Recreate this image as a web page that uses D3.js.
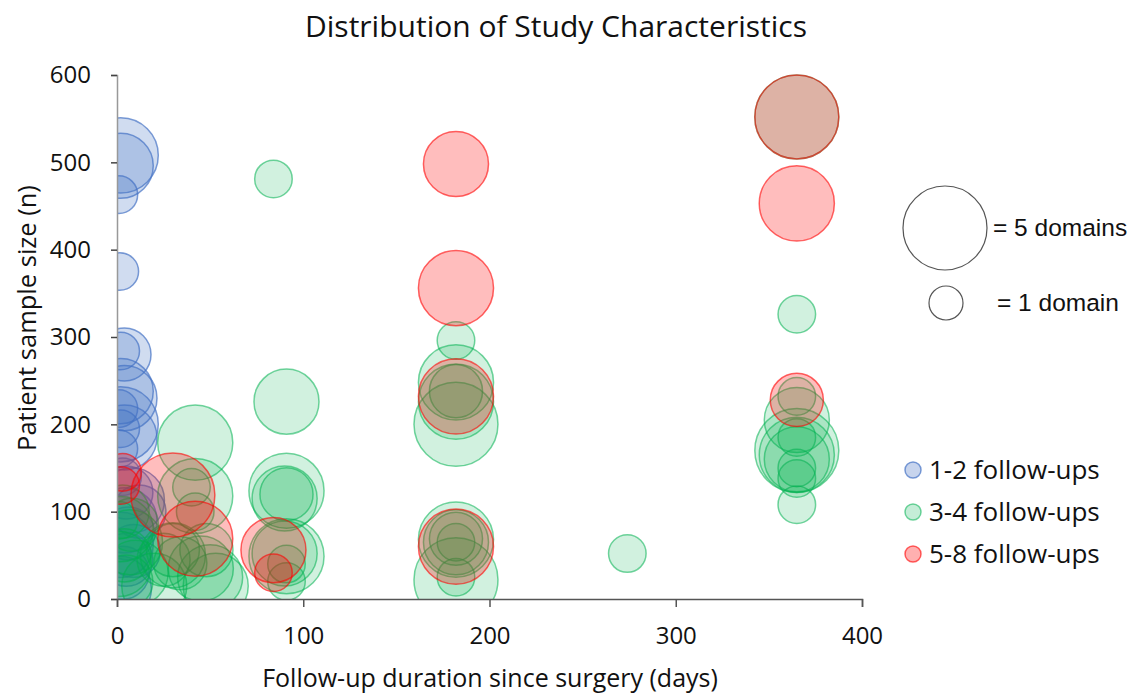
<!DOCTYPE html>
<html>
<head>
<meta charset="utf-8">
<script src="https://cdn.jsdelivr.net/npm/d3@7"></script>
<style>
  html, body { margin: 0; padding: 0; background: #fff; }
  svg { display: block; }
  text { font-family: "Open Sans", "Noto Sans", sans-serif; fill: #111; }
</style>
</head>
<body>
<svg id="chart" width="1135" height="696"></svg>
<script>
// ---- data: [follow-up days, patient sample size, number of domains] ----
const series12 = [
  [2,508,4],[2,496,3],[1,463,1],[1.5,375,1],
  [4,280,2],[2,284,1],
  [2,238,3],[4,230,3],
  [2,200,4],[4,185,3],[1,218,1],[2,195,1],[1,172,1],
  [5,122,2],[8,113,3],[12,100,2],[4,90,3],[6,75,2],[2,62,3],[5,45,2],[3,30,2],[1,12,3],[9,55,2],[3,140,1]
];
const series34 = [
  [3,100,2],[2,80,3],[7,65,3],[4,50,2],[1,40,3],[10,30,3],[5,20,2],[20,15,3],[1,90,1],[8,85,2],
  [42,179,4],[42,118,4],[40,128,1],[42,100,1],[30,56,2],[34,41,2],[48,56,2],[30,50,3],[50,25,3],[53,15,3],[45,35,3],[25,45,2],
  [84,481,1],[91,226,3],[91,124,4],[91,120,2],[90,115,3],[91,49,4],[90,52,3],[91,40,1],[91,20,1],
  [182,296,1],[182,248,4],[182,226,4],[182,238,2],[182,200,5],[182,68,4],[182,65,3],[182,69,2],[182,65,1],[182,25,1],[182,22,5],
  [274,52,1],
  [365,552,5],[365,326,1],[365,232,1],[365,205,3],[365,170,5],[365,165,4],[365,160,3],[365,185,1],[365,150,1],[365,138,1],[365,108,1]
];
const series58 = [
  [3,145,1],[2,130,1],[30,119,5],[42,69,4],[84,56,3],[84,30,1],
  [182,498,3],[182,356,4],[182,232,4],[182,60,4],
  [365,552,5],[365,453,4],[365,228,2]
];
const seriesNames = ["1-2 follow-ups", "3-4 follow-ups", "5-8 follow-ups"];
const xTicks = [0, 100, 200, 300, 400];
const yTicks = [0, 100, 200, 300, 400, 500, 600];
const sizeLegend = [5, 1];

const seriesColors = ["68,114,196", "0,176,80", "255,0,0"];
const fillAlpha = [0.25, 0.18, 0.26];
const strokeAlpha = [0.7, 0.55, 0.6];

const svg = d3.select("#chart");
const pLeft = 117, pRight = 862, pTop = 75, pBottom = 599;

const x = d3.scaleLinear().domain([0, 400]).range([pLeft, pRight]);
const y = d3.scaleLinear().domain([0, 600]).range([pBottom, pTop]);
const r = d3.scaleSqrt().domain([0, 5]).range([0, 42]);

// Title
svg.append("text")
  .attr("x", 556).attr("y", 37)
  .attr("text-anchor", "middle")
  .style("font-size", "30px")
  .text("Distribution of Study Characteristics");

// clip
svg.append("defs").append("clipPath").attr("id", "plotClip")
  .append("rect").attr("x", pLeft).attr("y", pTop - 3)
  .attr("width", pRight - pLeft).attr("height", pBottom - pTop + 3);

const plot = svg.append("g").attr("clip-path", "url(#plotClip)");
[series12, series34, series58].forEach((data, i) => {
  plot.append("g").selectAll("circle").data(data).join("circle")
    .attr("cx", d => x(d[0]))
    .attr("cy", d => y(d[1]))
    .attr("r", d => r(d[2]))
    .attr("fill", `rgba(${seriesColors[i]},${fillAlpha[i]})`)
    .attr("stroke", `rgba(${seriesColors[i]},${strokeAlpha[i]})`)
    .attr("stroke-width", 1.5);
});

// Axes
const yAxis = svg.append("g").attr("transform", `translate(${pLeft},0)`)
  .call(d3.axisLeft(y).tickValues(yTicks).tickSize(6).tickPadding(20).tickFormat(d3.format("d")));
yAxis.select(".domain").attr("stroke", "#999").attr("stroke-width", 1.5);
yAxis.selectAll(".tick line").attr("stroke", "#444").attr("stroke-width", 1.5);
yAxis.selectAll(".tick text").style("font-size", "24px").style("font-family", '"Open Sans", sans-serif').attr("fill", "#111");

const xAxis = svg.append("g").attr("transform", `translate(0,${pBottom})`)
  .call(d3.axisBottom(x).tickValues(xTicks).tickSize(8).tickPadding(20).tickFormat(d3.format("d")));
xAxis.select(".domain").attr("stroke", "#555").attr("stroke-width", 1.5);
xAxis.selectAll(".tick line").attr("stroke", "#555").attr("stroke-width", 1.5);
xAxis.selectAll(".tick text").style("font-size", "24px").style("font-family", '"Open Sans", sans-serif').attr("fill", "#111");

// Axis titles
svg.append("text")
  .attr("x", 490).attr("y", 687)
  .attr("text-anchor", "middle")
  .style("font-size", "25px")
  .text("Follow-up duration since surgery (days)");
svg.append("text")
  .attr("transform", "translate(36,318) rotate(-90)")
  .attr("text-anchor", "middle")
  .style("font-size", "25.5px")
  .text("Patient sample size (n)");

// Size legend
const sizeLeg = svg.append("g");
const sizeY = [228, 303];
const sizeCx = [945, 946];
const sizeLabels = ["= 5 domains", "= 1 domain"];
const sizeTx = [993, 997];
sizeLegend.forEach((d, i) => {
  sizeLeg.append("circle").attr("cx", sizeCx[i]).attr("cy", sizeY[i]).attr("r", d === 5 ? 42 : 17)
    .attr("fill", "none").attr("stroke", "#555").attr("stroke-width", 1.2);
  sizeLeg.append("text").attr("x", sizeTx[i]).attr("y", sizeY[i] + 8)
    .style("font-family", '"Liberation Sans", Arial, sans-serif').style("font-size", "24.5px")
    .text(sizeLabels[i]);
});

// Series legend
const leg = svg.append("g");
seriesNames.forEach((name, i) => {
  const ly = 470 + i * 42;
  leg.append("circle").attr("cx", 913).attr("cy", ly).attr("r", 8)
    .attr("fill", `rgba(${seriesColors[i]},${fillAlpha[i] + 0.05})`)
    .attr("stroke", `rgba(${seriesColors[i]},${strokeAlpha[i]})`).attr("stroke-width", 1.5);
  leg.append("text").attr("x", 929).attr("y", ly + 9)
    .style("font-size", "26px").text(name);
});
</script>
</body>
</html>
